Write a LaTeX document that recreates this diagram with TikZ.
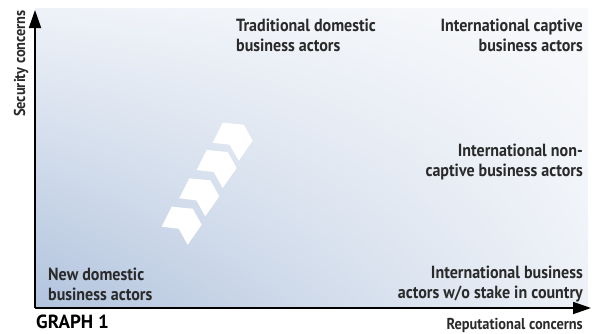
\documentclass[tikz,border=0pt]{standalone}
\usepackage{fontspec}
\setmainfont{PT Sans}
\newfontfamily\lblfont[FakeStretch=0.91]{PT Sans}
\usetikzlibrary{arrows.meta,shadings}
\definecolor{txt}{HTML}{2A2A2A}
\definecolor{cUL}{HTML}{EEF2F8}
\definecolor{cUR}{HTML}{F8F9FB}
\definecolor{cLL}{HTML}{B1C3DD}
\definecolor{cLR}{HTML}{EDF1F7}
\begin{document}
\begin{tikzpicture}[x=1pt,y=-1pt,
  lbl/.style={font=\lblfont\bfseries\fontsize{17.6}{19.8}\selectfont, text=txt, inner sep=0pt},
  axlbl/.style={font=\lblfont\bfseries\fontsize{15.8}{17}\selectfont, text=txt, inner sep=0pt},
  axis/.style={line width=1.8pt, draw=black, -{Triangle[length=18pt,width=12pt]}},
  chev/.style={fill=white, draw=none}]
\useasboundingbox (0,0) rectangle (597,333);
\shade[upper left=cUL, upper right=cUR, lower left=cLL, lower right=cLR] (35,8) rectangle (588,308);
% chevrons
\foreach \dx/\dy in {222.7/122.7, 206.7/150, 189.3/178.3, 171.7/206.7}{
  \fill[chev, shift={(\dx pt,-\dy pt)}] (0,0) -- (21,2) -- (30,18) -- (16,38) -- (7,22) -- (-10,20) -- cycle;
}
% axes
\coordinate (o) at (35,308);
\coordinate (ytop) at (35,10);
\coordinate (xend) at (591,308);
\draw[axis] (o) -- (ytop);
\draw[axis] (o) -- (xend);
% labels
\node[axlbl, rotate=90, anchor=base] (sec) at (25,63.5) {Security concerns};
\node[axlbl, anchor=base east] (rep) at (583,329) {Reputational concerns};
\node[font=\bfseries\fontsize{19}{22}\selectfont, text=black, inner sep=0pt, anchor=base west] (g1) at (36,328) {GRAPH 1};
\node[lbl, anchor=base west, align=left] (nda) at (48,300) {New domestic\\business actors};
\node[lbl, anchor=base west, align=left] (tda) at (236,51.5) {Traditional domestic\\business actors};
\node[lbl, anchor=base east, align=right] (icb) at (583,51.5) {International captive\\business actors};
\node[lbl, anchor=base east, align=right] (inc) at (583,176.5) {International non-\\captive business actors};
\node[lbl, anchor=base east, align=right] (ibw) at (583,298) {International business\\actors w/o stake in country};
\end{tikzpicture}
\end{document}
